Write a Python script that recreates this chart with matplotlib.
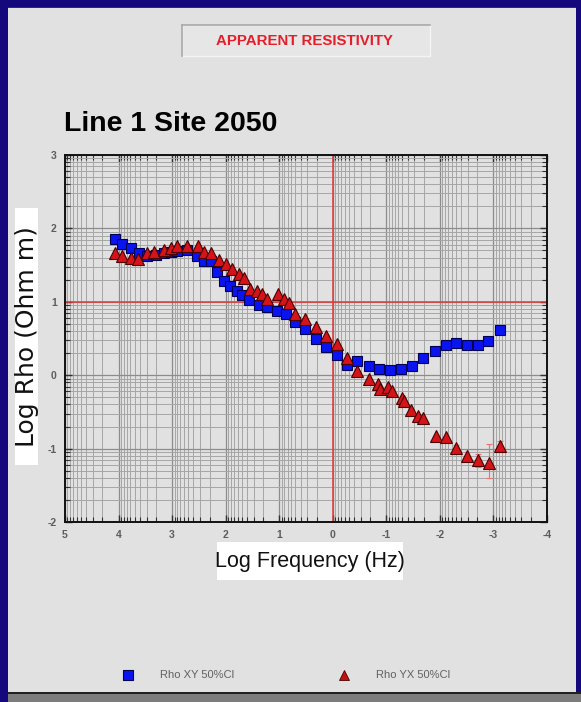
import numpy as np
import matplotlib
matplotlib.use("Agg")
import matplotlib.pyplot as plt
from matplotlib.patches import Rectangle
from matplotlib.lines import Line2D
from matplotlib.ticker import FixedLocator, FuncFormatter, LogLocator, NullFormatter

# ---------------- data (log10 values) ----------------
xy_logf = [4.07, 3.93, 3.76, 3.62, 3.46, 3.30, 3.15, 3.03, 2.90, 2.72, 2.53, 2.41,
           2.28, 2.16, 2.03, 1.91, 1.78, 1.69, 1.57, 1.38, 1.23, 1.04, 0.88, 0.70,
           0.51, 0.31, 0.12, -0.07, -0.26, -0.46, -0.67, -0.87, -1.07, -1.27, -1.47,
           -1.69, -1.91, -2.11, -2.30, -2.51, -2.71, -2.90, -3.12]
xy_logrho = [1.86, 1.79, 1.73, 1.67, 1.63, 1.64, 1.66, 1.68, 1.69, 1.71, 1.63, 1.55,
             1.55, 1.41, 1.29, 1.22, 1.15, 1.09, 1.02, 0.95, 0.93, 0.87, 0.84, 0.72,
             0.63, 0.50, 0.39, 0.27, 0.14, 0.20, 0.13, 0.09, 0.07, 0.08, 0.13,
             0.23, 0.33, 0.41, 0.44, 0.41, 0.41, 0.47, 0.61]

yx_logf = [4.07, 3.93, 3.76, 3.64, 3.46, 3.34, 3.16, 3.03, 2.91, 2.72, 2.52, 2.41,
           2.28, 2.13, 2.00, 1.88, 1.75, 1.65, 1.54, 1.41, 1.32, 1.23, 1.03, 0.92,
           0.82, 0.70, 0.51, 0.31, 0.12, -0.07, -0.26, -0.46, -0.67, -0.85, -0.88,
           -1.04, -1.10, -1.29, -1.33, -1.46, -1.60, -1.69, -1.93, -2.11, -2.30,
           -2.51, -2.71, -2.92, -3.12]
yx_logrho = [1.66, 1.63, 1.60, 1.58, 1.66, 1.68, 1.70, 1.73, 1.76, 1.76, 1.76, 1.68,
             1.66, 1.57, 1.51, 1.45, 1.38, 1.32, 1.18, 1.15, 1.11, 1.04, 1.11, 1.04,
             0.99, 0.84, 0.77, 0.65, 0.54, 0.42, 0.24, 0.06, -0.05, -0.12, -0.19,
             -0.16, -0.21, -0.31, -0.35, -0.47, -0.56, -0.58, -0.83, -0.84, -0.99,
             -1.10, -1.16, -1.19, -0.97]
# 50% confidence interval half-widths (log10 units), lower / upper
yx_err_lo = [0.0] * 44 + [0.04, 0.06, 0.09, 0.21, 0.05]
yx_err_hi = [0.0] * 44 + [0.04, 0.06, 0.08, 0.25, 0.08]

x_ticks = [5, 4, 3, 2, 1, 0, -1, -2, -3, -4]
y_ticks = [-2, -1, 0, 1, 2, 3]

legend_labels = ["Rho XY 50%Cl", "Rho YX 50%Cl"]
chart_title = "APPARENT RESISTIVITY"
site_title = "Line 1 Site 2050"
x_label = "Log Frequency (Hz)"
y_label = "Log Rho (Ohm m)"

# ---------------- figure ----------------
W, H = 581, 702
BG = "#e1e1e1"
NAVY = "#14087c"
fig = plt.figure(figsize=(W / 100, H / 100), dpi=100, facecolor=BG)


def fx(px):
    return px / W


def fy(py):
    return 1 - py / H


def frect(x0, y0, x1, y1, **kw):
    r = Rectangle((fx(x0), fy(y1)), (x1 - x0) / W, (y1 - y0) / H,
                  transform=fig.transFigure, **kw)
    fig.add_artist(r)
    return r


# window frame
frect(0, 0, W, 7, facecolor=NAVY, edgecolor="none", zorder=0)
frect(0, 7, W, 8, facecolor="#303048", edgecolor="none", zorder=0)
frect(0, 0, 8, H, facecolor=NAVY, edgecolor="none", zorder=0)
frect(576, 0, W, H, facecolor=NAVY, edgecolor="none", zorder=0)
frect(8, 692, W, 694, facecolor="#202020", edgecolor="none", zorder=0)
frect(8, 694, W, H, facecolor="#7c7c7c", edgecolor="none", zorder=0)

# title box
frect(182, 25, 430, 56, facecolor="#e6e6e6", edgecolor="#f4f4f4", lw=1, zorder=1)
fig.add_artist(Line2D([fx(182), fx(430)], [fy(25), fy(25)], color="#a8a8a8", lw=1.2,
                      transform=fig.transFigure, zorder=2))
fig.add_artist(Line2D([fx(182), fx(182)], [fy(25), fy(56)], color="#a8a8a8", lw=1.2,
                      transform=fig.transFigure, zorder=2))
fig.text(fx(305), fy(41), chart_title, color="#e41e2a", fontsize=10.8, fontweight="bold",
         family=["Liberation Sans"], ha="center", va="center")

fig.text(fx(64), fy(131), site_title, color="black", fontsize=20.5, fontweight="bold",
         family=["Liberation Sans"], ha="left", va="baseline")

# axis label boxes
frect(15, 208, 38, 465, facecolor="white", edgecolor="none", zorder=1)
fig.text(fx(27), fy(337), y_label, rotation=90, fontsize=18, color="#111111",
         family=["DejaVu Sans"], ha="center", va="center", zorder=3)
frect(217, 542, 403, 580, facecolor="white", edgecolor="none", zorder=1)
fig.text(fx(310), fy(561), x_label, fontsize=15.5, color="#111111",
         family=["Liberation Sans"], ha="center", va="center", zorder=3)

# ---------------- axes ----------------
ax = fig.add_axes([fx(65), fy(522), (547 - 65) / W, (522 - 155) / H])
ax.set_facecolor(BG)
ax.set_xscale("log")
ax.set_yscale("log")
ax.set_xlim(10.0 ** max(x_ticks), 10.0 ** min(x_ticks))
ax.set_ylim(10.0 ** min(y_ticks), 10.0 ** max(y_ticks))

fmt = FuncFormatter(lambda v, pos: f"{int(round(np.log10(v)))}")
ax.xaxis.set_major_locator(FixedLocator([10.0 ** t for t in x_ticks]))
ax.yaxis.set_major_locator(FixedLocator([10.0 ** t for t in y_ticks]))
ax.xaxis.set_major_formatter(fmt)
ax.yaxis.set_major_formatter(fmt)
ax.xaxis.set_minor_locator(LogLocator(base=10, subs=np.arange(2, 10), numticks=30))
ax.yaxis.set_minor_locator(LogLocator(base=10, subs=np.arange(2, 10), numticks=30))
ax.xaxis.set_minor_formatter(NullFormatter())
ax.yaxis.set_minor_formatter(NullFormatter())

ax.grid(which="major", color="#8c8c8c", lw=0.9, zorder=0)
ax.grid(which="minor", color="#a6a6a6", lw=0.7, zorder=0)
ax.set_axisbelow(True)
ax.tick_params(which="both", direction="in", top=True, right=True, colors="#303030",
               labelcolor="#5c5c5c", labelsize=7.5)
ax.tick_params(which="major", length=5, width=1.0, pad=6)
ax.tick_params(which="minor", length=3.5, width=0.8)
for lab in ax.get_xticklabels() + ax.get_yticklabels():
    lab.set_family(["Liberation Sans"])
    lab.set_fontweight("bold")
for s in ax.spines.values():
    s.set_linewidth(1.4)
    s.set_color("#111111")

# red reference lines
ax.axvline(10.0 ** 0, color="#e03a3a", lw=1.1, zorder=1)
ax.axhline(10.0 ** 1, color="#e03a3a", lw=1.1, zorder=1)

# data
xy_f = 10.0 ** np.array(xy_logf)
xy_r = 10.0 ** np.array(xy_logrho)
yx_f = 10.0 ** np.array(yx_logf)
yx_lr = np.array(yx_logrho)
yx_r = 10.0 ** yx_lr
lo = yx_r - 10.0 ** (yx_lr - np.array(yx_err_lo))
hi = 10.0 ** (yx_lr + np.array(yx_err_hi)) - yx_r
has_err = (np.array(yx_err_lo) + np.array(yx_err_hi)) > 0
ax.errorbar(yx_f[has_err], yx_r[has_err], yerr=[lo[has_err], hi[has_err]], fmt="none",
            ecolor="#f07070", elinewidth=0.8, capsize=2.5, capthick=0.8, zorder=2)

ax.plot(xy_f, xy_r, ls="none", marker="s", ms=7.8, mfc="#0a14f0", mec="#000050",
        mew=0.8, zorder=3)
ax.plot(yx_f, yx_r, ls="none", marker="^", ms=8.5, mfc="#d41418", mec="#4a0000",
        mew=0.8, zorder=4)

# legend (bottom of window)
fig.add_artist(Line2D([fx(128)], [fy(675)], marker="s", ms=7.5, mfc="#0a14f0",
                      mec="#000050", mew=0.8, ls="none", transform=fig.transFigure))
fig.text(fx(160), fy(675), legend_labels[0], fontsize=8, color="#606060",
         family=["Liberation Sans"], ha="left", va="center")
fig.add_artist(Line2D([fx(344)], [fy(675)], marker="^", ms=7.5, mfc="#c41010",
                      mec="#4a0000", mew=0.6, ls="none", transform=fig.transFigure))
fig.text(fx(376), fy(675), legend_labels[1], fontsize=8, color="#606060",
         family=["Liberation Sans"], ha="left", va="center")

fig.savefig("out.png", dpi=100, facecolor=BG)
